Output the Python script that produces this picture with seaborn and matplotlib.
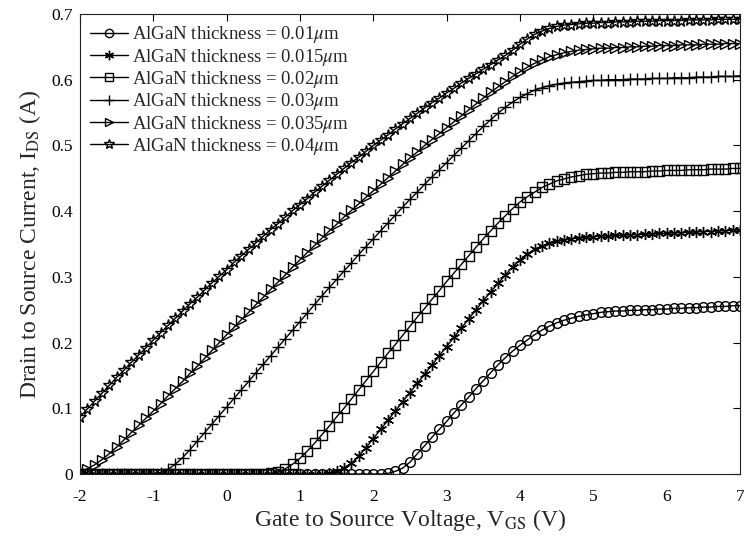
import matplotlib
matplotlib.use("Agg")
import matplotlib.pyplot as plt
import seaborn as sns
import pandas as pd

# ---- data ----
vgs = [-2.0, -1.9, -1.8, -1.7, -1.6, -1.5, -1.4, -1.3, -1.2, -1.1,
       -1.0, -0.9, -0.8, -0.7, -0.6, -0.5, -0.4, -0.3, -0.2, -0.1,
       0.0, 0.1, 0.2, 0.3, 0.4, 0.5, 0.6, 0.7, 0.8, 0.9,
       1.0, 1.1, 1.2, 1.3, 1.4, 1.5, 1.6, 1.7, 1.8, 1.9,
       2.0, 2.1, 2.2, 2.3, 2.4, 2.5, 2.6, 2.7, 2.8, 2.9,
       3.0, 3.1, 3.2, 3.3, 3.4, 3.5, 3.6, 3.7, 3.8, 3.9,
       4.0, 4.1, 4.2, 4.3, 4.4, 4.5, 4.6, 4.7, 4.8, 4.9,
       5.0, 5.1, 5.2, 5.3, 5.4, 5.5, 5.6, 5.7, 5.8, 5.9,
       6.0, 6.1, 6.2, 6.3, 6.4, 6.5, 6.6, 6.7, 6.8, 6.9,
       7.0]

ids_001 = [0, 0, 0, 0, 0, 0, 0, 0, 0, 0,
           0, 0, 0, 0, 0, 0, 0, 0, 0, 0,
           0, 0, 0, 0, 0, 0, 0, 0, 0, 0,
           0, 0, 0, 0, 0, 0, 0, 0, 0, 0,
           0, 0, 0.001, 0.004, 0.009, 0.018, 0.031, 0.043, 0.056, 0.068,
           0.080, 0.093, 0.105, 0.117, 0.130, 0.142, 0.154, 0.166, 0.177, 0.187,
           0.196, 0.204, 0.212, 0.219, 0.225, 0.230, 0.234, 0.237, 0.240, 0.242,
           0.244, 0.246, 0.247, 0.248, 0.248, 0.249, 0.249, 0.250, 0.250, 0.251,
           0.251, 0.252, 0.252, 0.253, 0.253, 0.254, 0.254, 0.255, 0.255, 0.256,
           0.256]

ids_0015 = [0, 0, 0, 0, 0, 0, 0, 0, 0, 0,
            0, 0, 0, 0, 0, 0, 0, 0, 0, 0,
            0, 0, 0, 0, 0, 0, 0, 0, 0, 0,
            0, 0, 0, 0, 0.001, 0.004, 0.009, 0.016, 0.027, 0.040,
            0.054, 0.068, 0.082, 0.096, 0.110, 0.124, 0.138, 0.152, 0.166, 0.180,
            0.194, 0.208, 0.222, 0.236, 0.250, 0.264, 0.277, 0.290, 0.303, 0.315,
            0.326, 0.335, 0.342, 0.347, 0.351, 0.354, 0.356, 0.358, 0.359, 0.360,
            0.361, 0.362, 0.362, 0.363, 0.363, 0.364, 0.364, 0.365, 0.365, 0.366,
            0.366, 0.367, 0.367, 0.368, 0.368, 0.369, 0.369, 0.370, 0.370, 0.371,
            0.371]

ids_002 = [0, 0, 0, 0, 0, 0, 0, 0, 0, 0,
           0, 0, 0, 0, 0, 0, 0, 0, 0, 0,
           0, 0, 0, 0, 0, 0, 0.001, 0.003, 0.008, 0.015,
           0.024, 0.035, 0.047, 0.060, 0.073, 0.087, 0.100, 0.114, 0.128, 0.142,
           0.156, 0.170, 0.184, 0.197, 0.211, 0.225, 0.239, 0.252, 0.266, 0.279,
           0.293, 0.306, 0.319, 0.332, 0.345, 0.358, 0.370, 0.382, 0.393, 0.404,
           0.414, 0.422, 0.429, 0.436, 0.441, 0.446, 0.449, 0.452, 0.454, 0.456,
           0.457, 0.458, 0.458, 0.459, 0.459, 0.460, 0.460, 0.460, 0.461, 0.461,
           0.462, 0.462, 0.462, 0.463, 0.463, 0.463, 0.464, 0.464, 0.464, 0.465,
           0.465]

ids_003 = [0, 0, 0, 0, 0, 0, 0, 0, 0, 0,
           0, 0.002, 0.007, 0.015, 0.025, 0.037, 0.050, 0.063, 0.076, 0.089,
           0.102, 0.115, 0.128, 0.141, 0.154, 0.167, 0.180, 0.193, 0.206, 0.219,
           0.232, 0.245, 0.258, 0.271, 0.284, 0.296, 0.309, 0.321, 0.334, 0.346,
           0.358, 0.370, 0.382, 0.394, 0.406, 0.418, 0.429, 0.441, 0.452, 0.463,
           0.474, 0.485, 0.496, 0.507, 0.518, 0.529, 0.539, 0.549, 0.558, 0.566,
           0.573, 0.579, 0.584, 0.588, 0.591, 0.593, 0.595, 0.596, 0.597, 0.598,
           0.599, 0.599, 0.600, 0.600, 0.600, 0.601, 0.601, 0.601, 0.602, 0.602,
           0.602, 0.603, 0.603, 0.603, 0.604, 0.604, 0.604, 0.605, 0.605, 0.605,
           0.606]

ids_0035 = [0.004, 0.008, 0.014, 0.022, 0.031, 0.041, 0.052, 0.063, 0.074, 0.085,
            0.096, 0.107, 0.119, 0.130, 0.141, 0.153, 0.164, 0.176, 0.188, 0.200,
            0.212, 0.223, 0.235, 0.246, 0.258, 0.269, 0.281, 0.292, 0.303, 0.315,
            0.326, 0.337, 0.348, 0.359, 0.370, 0.380, 0.391, 0.401, 0.411, 0.421,
            0.431, 0.441, 0.451, 0.461, 0.471, 0.481, 0.490, 0.500, 0.509, 0.518,
            0.527, 0.536, 0.545, 0.554, 0.563, 0.572, 0.581, 0.589, 0.597, 0.605,
            0.612, 0.619, 0.625, 0.630, 0.635, 0.638, 0.641, 0.643, 0.645, 0.646,
            0.647, 0.648, 0.648, 0.649, 0.649, 0.650, 0.650, 0.651, 0.651, 0.652,
            0.652, 0.652, 0.653, 0.653, 0.653, 0.654, 0.654, 0.654, 0.655, 0.655,
            0.655]

ids_004 = [0.087, 0.099, 0.111, 0.123, 0.135, 0.147, 0.158, 0.170, 0.181, 0.192,
           0.204, 0.215, 0.226, 0.237, 0.248, 0.259, 0.269, 0.280, 0.291, 0.301,
           0.311, 0.322, 0.332, 0.342, 0.352, 0.362, 0.372, 0.381, 0.391, 0.401,
           0.410, 0.419, 0.429, 0.438, 0.447, 0.456, 0.465, 0.474, 0.482, 0.491,
           0.500, 0.508, 0.516, 0.525, 0.533, 0.541, 0.549, 0.557, 0.565, 0.572,
           0.580, 0.587, 0.595, 0.602, 0.609, 0.616, 0.623, 0.630, 0.637, 0.645,
           0.654, 0.662, 0.669, 0.674, 0.678, 0.681, 0.683, 0.684, 0.685, 0.686,
           0.686, 0.687, 0.687, 0.688, 0.688, 0.688, 0.689, 0.689, 0.689, 0.690,
           0.690, 0.690, 0.690, 0.691, 0.691, 0.691, 0.691, 0.692, 0.692, 0.692,
           0.692]

labels = [r"AlGaN thickness = 0.01$\mu$m",
          r"AlGaN thickness = 0.015$\mu$m",
          r"AlGaN thickness = 0.02$\mu$m",
          r"AlGaN thickness = 0.03$\mu$m",
          r"AlGaN thickness = 0.035$\mu$m",
          r"AlGaN thickness = 0.04$\mu$m"]
series = [ids_001, ids_0015, ids_002, ids_003, ids_0035, ids_004]
markers = ["o", (6, 2, 0), "s", "+", ">", "*"]
msizes = [7, 8, 6.5, 8, 7, 8.5]

x_ticks = [-2, -1, 0, 1, 2, 3, 4, 5, 6, 7]
y_ticks = [0, 0.1, 0.2, 0.3, 0.4, 0.5, 0.6, 0.7]
y_ticklabels = ["0", "0.1", "0.2", "0.3", "0.4", "0.5", "0.6", "0.7"]

# ---- style ----
sns.set_theme(style="white")
plt.rcParams["font.family"] = ["Liberation Serif", "DejaVu Serif"]
plt.rcParams["mathtext.fontset"] = "stix"
plt.rcParams["axes.unicode_minus"] = False

fig = plt.figure(figsize=(7.44, 5.45), dpi=100)
ax = fig.add_axes([80 / 744, 1 - 474 / 545, 660 / 744, 460 / 545])

for ids, lab, mk, ms in zip(series, labels, markers, msizes):
    df = pd.DataFrame({"V": vgs, "I": ids})
    sns.lineplot(data=df, x="V", y="I", ax=ax, color="black", linewidth=1.0,
                 marker=mk, markersize=ms, markerfacecolor="none",
                 markeredgecolor="black", markeredgewidth=1.0,
                 label=lab, errorbar=None, sort=False)

ax.set_xlim(-2, 7)
ax.set_ylim(0, 0.7)
ax.set_xticks(x_ticks)
ax.set_xticklabels([str(t) for t in x_ticks])
ax.set_yticks(y_ticks)
ax.set_yticklabels(y_ticklabels)
ax.tick_params(direction="in", length=5, width=0.8, top=True, right=True,
               labelsize=12.5, colors="black")
ax.tick_params(axis="x", pad=11)
ax.tick_params(axis="y", pad=5)
for s in ax.spines.values():
    s.set_visible(True)
    s.set_color("#202020")
    s.set_linewidth(0.8)

ax.set_xlabel(r"Gate to Source Voltage, V$_{\rm GS}$ (V)", fontsize=17, labelpad=1)
ax.set_ylabel(r"Drain to Source Current, I$_{\rm DS}$ (A)", fontsize=17, labelpad=6)

leg = ax.legend(loc="upper left", frameon=False, fontsize=13.5, handlelength=2.0,
                handletextpad=0.25, labelspacing=0.07, borderaxespad=0.25,
                borderpad=0.3, markerscale=0.85)

fig.savefig("out.png", dpi=100)
